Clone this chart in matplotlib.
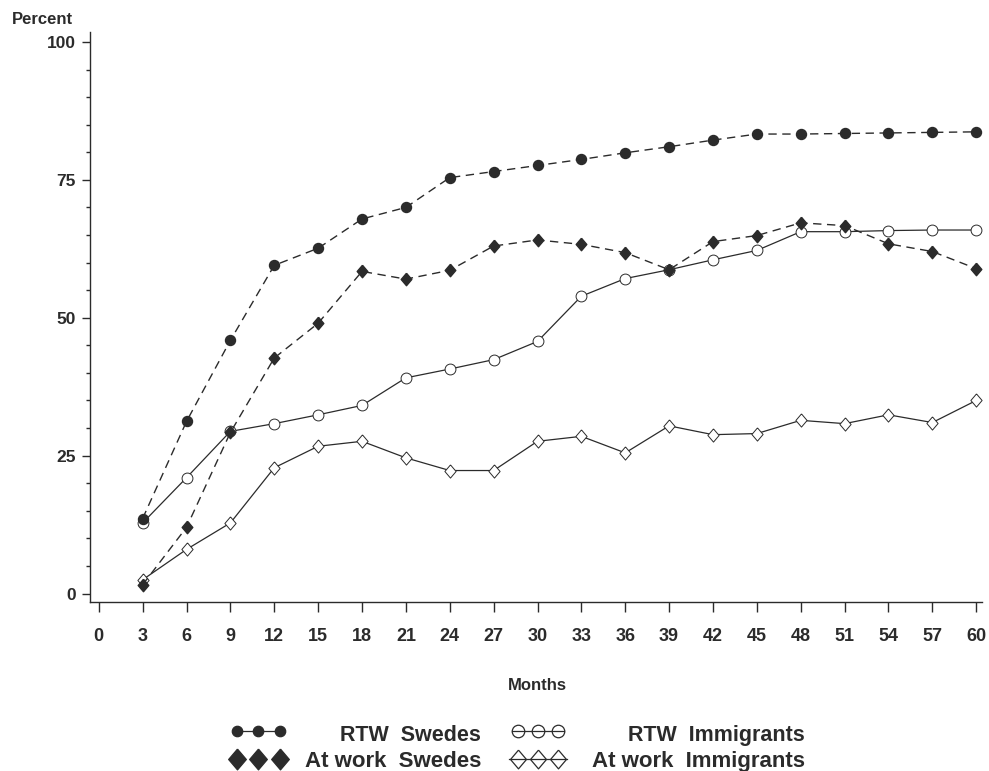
import matplotlib.pyplot as plt
from matplotlib.lines import Line2D
from matplotlib.ticker import MultipleLocator

plt.rcParams["font.family"] = ["Liberation Sans", "DejaVu Sans"]
plt.rcParams["font.weight"] = "bold"

months = list(range(3, 61, 3))
x_ticks = list(range(0, 61, 3))
y_ticks = [0, 25, 50, 75, 100]

rtw_swedes = [13.6, 31.2, 45.9, 59.5, 62.6, 67.9, 70.0, 75.4, 76.5, 77.6,
              78.7, 79.9, 81.0, 82.2, 83.3, 83.3, 83.4, 83.5, 83.6, 83.7]
work_swedes = [1.6, 12.0, 29.2, 42.7, 49.0, 58.4, 57.0, 58.6, 63.0, 64.1,
               63.3, 61.8, 58.7, 63.8, 64.9, 67.2, 66.7, 63.4, 62.0, 58.9]
rtw_immigrants = [12.8, 21.0, 29.4, 30.8, 32.4, 34.1, 39.1, 40.7, 42.4, 45.7,
                  53.9, 57.1, 58.7, 60.5, 62.2, 65.6, 65.6, 65.8, 65.9, 65.9]
work_immigrants = [2.5, 8.0, 12.8, 22.8, 26.7, 27.6, 24.6, 22.3, 22.3, 27.6,
                   28.5, 25.5, 30.4, 28.8, 29.0, 31.4, 30.8, 32.4, 31.0, 35.0]

INK = "#2b2b2b"
DIAMOND = [(0, 1), (0.85, 0), (0, -1), (-0.85, 0), (0, 1)]
DASH = (0, (6, 4))

W, H = 989, 771
fig = plt.figure(figsize=(W / 100, H / 100), dpi=100)
ax = fig.add_axes([0.091, 0.2198, 0.902, 0.7387])

# immigrants (solid, open markers) first so the Swedes series sit on top
ax.plot(months, rtw_immigrants, color=INK, lw=0.9, marker="o", ms=7.8,
        mfc="white", mec=INK, mew=0.7)
ax.plot(months, work_immigrants, color=INK, lw=0.9, marker=DIAMOND, ms=9.5,
        mfc="white", mec=INK, mew=0.7)
ax.plot(months, rtw_swedes, color=INK, lw=1.0, ls=DASH, marker="o", ms=7.2,
        mfc=INK, mec=INK)
ax.plot(months, work_swedes, color=INK, lw=1.0, ls=DASH, marker=DIAMOND,
        ms=9, mfc=INK, mec=INK)

ax.set_xlim(-0.6, 60.4)
ax.set_ylim(-1.45, 101.8)
ax.set_xticks(x_ticks)
ax.set_yticks(y_ticks)
ax.yaxis.set_minor_locator(MultipleLocator(5))
ax.tick_params(axis="x", direction="out", length=7, width=1, pad=12,
               labelsize=13, colors=INK)
ax.tick_params(axis="y", which="major", direction="out", length=6, width=1,
               pad=4, labelsize=12.5, colors=INK)
ax.tick_params(axis="y", which="minor", direction="out", length=3, width=1,
               colors=INK)
for side in ("top", "right"):
    ax.spines[side].set_visible(False)
for side in ("left", "bottom"):
    ax.spines[side].set_color(INK)
    ax.spines[side].set_linewidth(1)

fig.text(42 / W, 1 - 20 / H, "Percent", ha="center", va="center",
         fontsize=12, color=INK)
fig.text(537 / W, 1 - 685 / H, "Months", ha="center", va="center",
         fontsize=12, color=INK)


# hand built legend: symbols on the left, right aligned labels
def legend_row(xs, y, marker, ms, face, line_style, label, text_x, size, text_y):
    fig.add_artist(Line2D([x / W for x in xs], [1 - y / H] * len(xs),
                          transform=fig.transFigure, color=INK, lw=0.9,
                          ls=line_style, marker=marker, ms=ms, mfc=face,
                          mec=INK, mew=0.9))
    if label:
        fig.text(text_x / W, 1 - text_y / H, label, ha="right",
                 va="baseline", fontsize=size, color=INK)


legend_row([237, 258, 280], 731, "o", 7.5, INK, "-", "RTW  Swedes", 481, 15.5, 741)
legend_row([237, 258, 280], 759, DIAMOND, 15, INK, "none", "At work  Swedes", 481, 16, 767)
legend_row([512, 564], 731, None, 0, "white", "-", "", 805, 15.5, 741)
legend_row([518, 538, 558], 731, "o", 9, "none", "none", "RTW  Immigrants", 805, 15.5, 741)
legend_row([509, 567], 759, None, 0, "white", "-", "", 805, 16, 767)
legend_row([518, 538, 558], 759, DIAMOND, 13.5, "none", "none", "At work  Immigrants", 805, 16, 767)

fig.savefig("out.png", dpi=100)
